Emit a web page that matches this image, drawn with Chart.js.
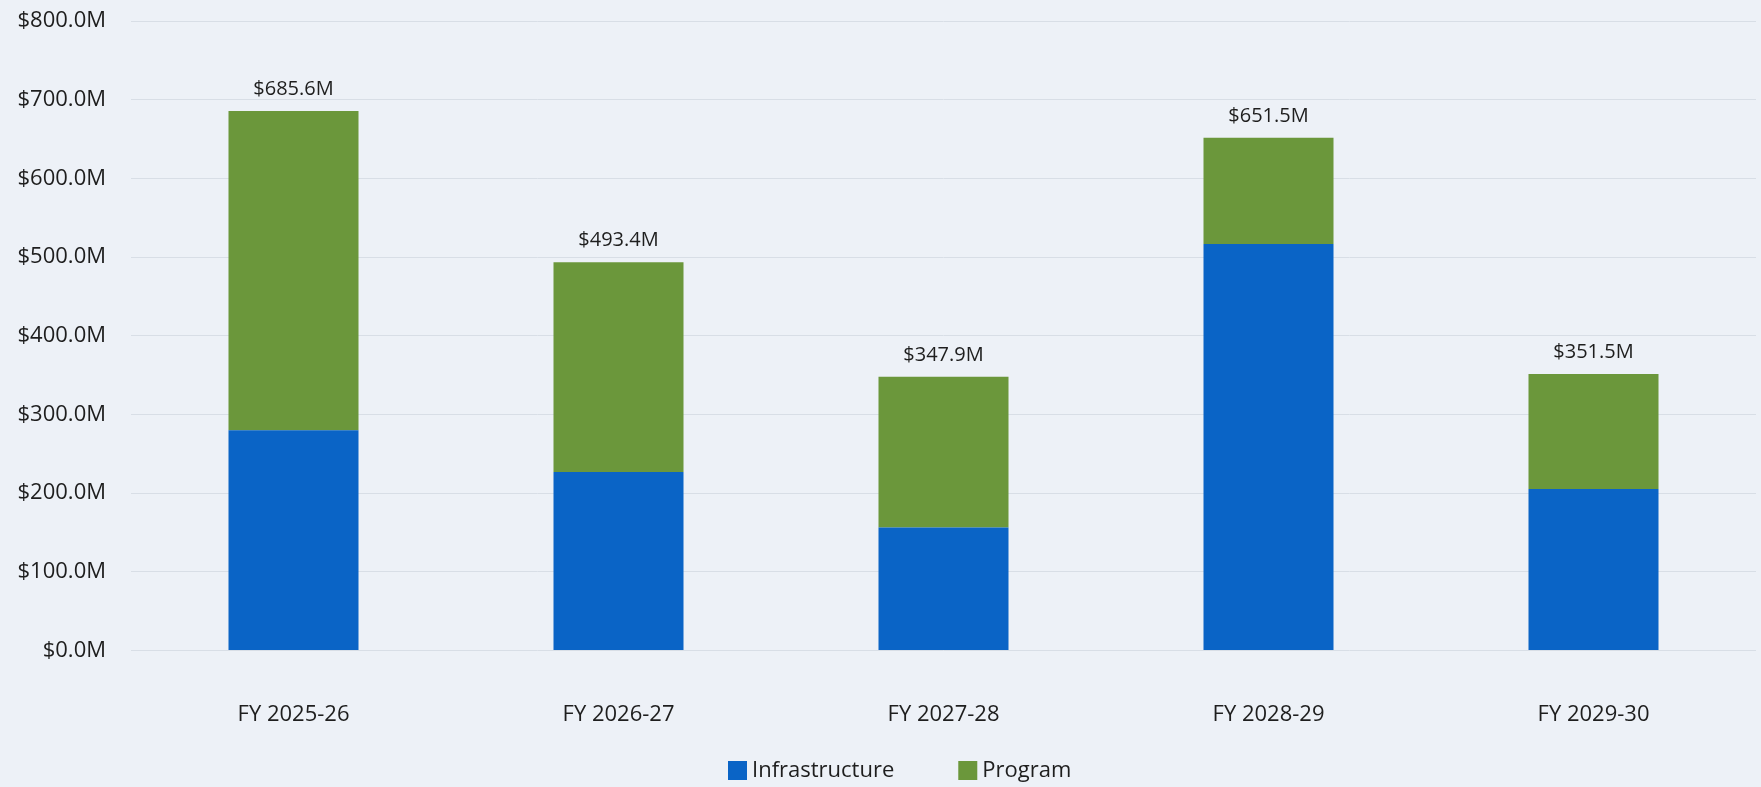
<!DOCTYPE html>
<html>
<head>
<meta charset="utf-8">
<title>Five year plan by fiscal year</title>
<script src="https://cdn.jsdelivr.net/npm/chart.js@4.4.1/dist/chart.umd.min.js"></script>
<style>
html, body { margin: 0; padding: 0; background: #edf1f7; overflow: hidden; }
#chart-box { width: 1761px; height: 787px; }
</style>
</head>
<body>
<div id="chart-box"><canvas id="plan-chart" width="1761" height="787"></canvas></div>
<script>
// values in millions of dollars
var fiscalYears = ['FY 2025-26', 'FY 2026-27', 'FY 2027-28', 'FY 2028-29', 'FY 2029-30'];
var infrastructure = [280.0, 227.0, 156.5, 516.7, 205.4];
var program = [405.6, 266.4, 191.4, 134.8, 146.1];
var yMin = 0;
var yMax = 800;
var yStep = 100;

var textColor = '#1e1e1e';
var fontFamily = "'Open Sans', 'Noto Sans', sans-serif";

function money(v) {
    return '$' + Number(v).toFixed(1) + 'M';
}

// total above each stacked bar
var totalLabels = {
    id: 'totalLabels',
    afterDatasetsDraw: function(chart) {
        var ctx = chart.ctx;
        var top = chart.getDatasetMeta(chart.data.datasets.length - 1);
        ctx.save();
        ctx.font = '20px ' + fontFamily;
        ctx.fillStyle = textColor;
        ctx.textAlign = 'center';
        ctx.textBaseline = 'middle';
        for (var i = 0; i < fiscalYears.length; i++) {
            var total = infrastructure[i] + program[i];
            var bar = top.data[i];
            ctx.fillText(money(total), bar.x, bar.y - 22);
        }
        ctx.restore();
    }
};

// legend drawn by hand so the gap between items matches
var bottomLegend = {
    id: 'bottomLegend',
    afterDraw: function(chart) {
        var ctx = chart.ctx;
        var sets = chart.data.datasets;
        var x = 728;
        var y = 770;
        ctx.save();
        ctx.font = '22px ' + fontFamily;
        ctx.textBaseline = 'middle';
        ctx.textAlign = 'left';
        for (var i = 0; i < sets.length; i++) {
            ctx.fillStyle = sets[i].backgroundColor;
            ctx.fillRect(x, y - 9, 19, 19);
            ctx.fillStyle = textColor;
            ctx.fillText(sets[i].label, x + 24, y + 1);
            x += 24 + ctx.measureText(sets[i].label).width + 64;
        }
        ctx.restore();
    }
};

function load_plan_chart() {
    var canvas = document.getElementById('plan-chart').getContext('2d');
    var chartData = {
        labels: fiscalYears,
        datasets: [{
            label: 'Infrastructure',
            backgroundColor: '#0a64c6',
            data: infrastructure
        }, {
            label: 'Program',
            backgroundColor: '#6b973b',
            data: program
        }]
    };
    var chartOptions = {
        responsive: false,
        animation: false,
        devicePixelRatio: 1,
        layout: { padding: { top: 21, right: 5, bottom: 16, left: 0 } },
        plugins: {
            legend: { display: false },
            tooltip: { enabled: false }
        },
        datasets: {
            bar: { categoryPercentage: 1.0, barPercentage: 0.4 }
        },
        scales: {
            x: {
                stacked: true,
                grid: { display: false },
                border: { display: false },
                ticks: {
                    color: textColor,
                    padding: 43,
                    font: { family: fontFamily, size: 22 }
                }
            },
            y: {
                stacked: true,
                min: yMin,
                max: yMax,
                afterFit: function(scale) {
                    scale.width = 131;
                    scale.paddingTop = 0;
                    scale.paddingBottom = 0;
                },
                grid: { color: '#d8dee6', lineWidth: 1, drawTicks: false },
                border: { display: false },
                ticks: {
                    stepSize: yStep,
                    color: textColor,
                    padding: 25,
                    font: { family: fontFamily, size: 22 },
                    callback: function(v) { return money(v); }
                }
            }
        }
    };

    new Chart(canvas, {
        type: 'bar',
        data: chartData,
        options: chartOptions,
        plugins: [totalLabels, bottomLegend]
    });
}

load_plan_chart();
</script>
</body>
</html>
